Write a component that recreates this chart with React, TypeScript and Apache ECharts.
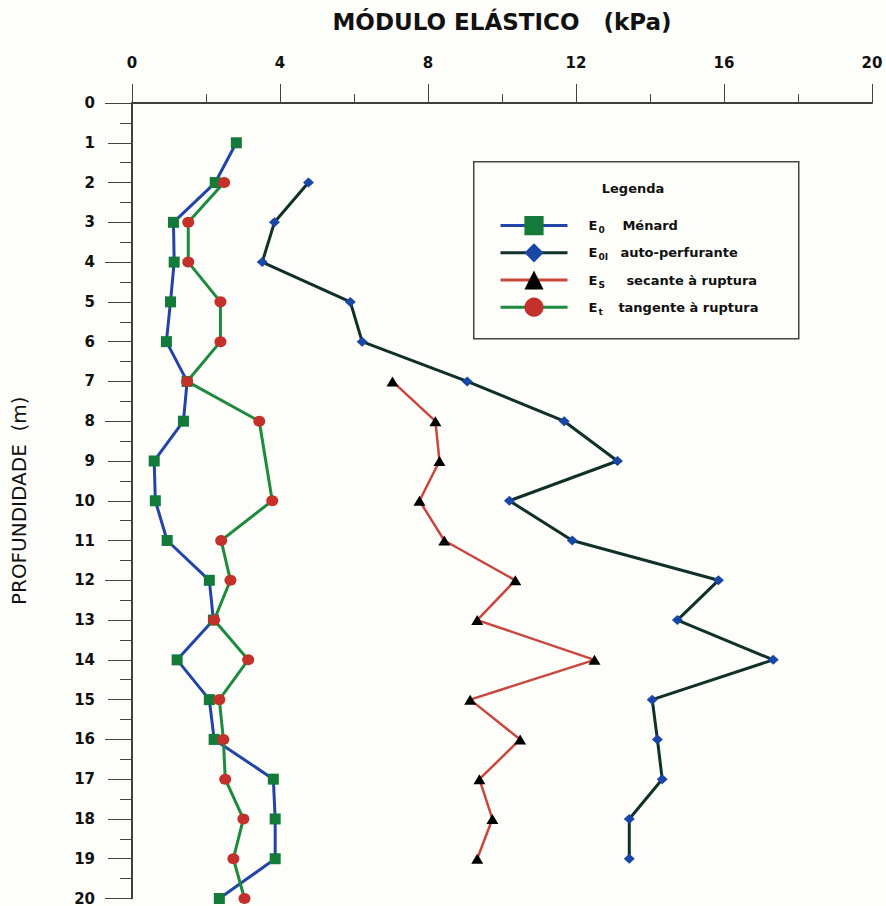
import React, { useEffect, useRef } from "react";
import * as echarts from "echarts";

// Depth (m) and elastic modulus values
const e0Depths = [1, 2, 3, 4, 5, 6, 7, 8, 9, 10, 11, 12, 13, 14, 15, 16, 17, 18, 19, 20];
const e0Values = [2.82, 2.25, 1.12, 1.14, 1.04, 0.93, 1.49, 1.39, 0.6, 0.63, 0.95, 2.09, 2.2, 1.22, 2.09, 2.22, 3.82, 3.87, 3.87, 2.36];

const e0iDepths = [2, 3, 4, 5, 6, 7, 8, 9, 10, 11, 12, 13, 14, 15, 16, 17, 18, 19];
const e0iValues = [4.77, 3.85, 3.52, 5.9, 6.22, 9.06, 11.68, 13.12, 10.2, 11.9, 15.85, 14.74, 17.33, 14.06, 14.2, 14.33, 13.44, 13.44];

const esDepths = [7, 8, 9, 10, 11, 12, 13, 14, 15, 16, 17, 18, 19];
const esValues = [7.04, 8.2, 8.31, 7.77, 8.44, 10.36, 9.33, 12.5, 9.14, 10.49, 9.39, 9.74, 9.33];

const etDepths = [2, 3, 4, 5, 6, 7, 8, 10, 11, 12, 13, 14, 15, 16, 17, 18, 19, 20];
const etValues = [2.49, 1.52, 1.52, 2.39, 2.39, 1.49, 3.44, 3.79, 2.41, 2.66, 2.22, 3.14, 2.36, 2.47, 2.52, 3.01, 2.74, 3.04];

const seriesNames = ["E0 Ménard", "E0I auto-perfurante", "ES secante à ruptura", "Et tangente à ruptura"];
const legendSubs = ["0", "0I", "S", "t"];
const legendDescs = ["Ménard", "auto-perfurante", "secante à ruptura", "tangente à ruptura"];

const xAxisTitle = "MÓDULO ELÁSTICO   (kPa)";
const yAxisTitle = "PROFUNDIDADE  (m)";
const legendTitle = "Legenda";

const FONT = "DejaVu Sans";

const toPairs = (vals: number[], depths: number[]) => vals.map((v, i) => [v, depths[i]]);

export default function App() {
  const ref = useRef<HTMLDivElement>(null);

  useEffect(() => {
    if (!ref.current) return;
    const chart = echarts.init(ref.current, undefined, { renderer: "svg" });

    const axisColor = "#333";
    const labelStyle = { fontFamily: FONT, fontWeight: "bold" as const, fontSize: 15, color: "#111" };

    const subWidths = [25, 23, 29, 21];
    const rich: any = {
      e: { fontFamily: FONT, fontWeight: "bold", fontSize: 13, color: "#111", padding: [0, 0, 0, 16] },
      d: { fontFamily: FONT, fontWeight: "bold", fontSize: 13, color: "#111" },
    };
    subWidths.forEach((w, i) => {
      rich["s" + i] = { fontFamily: FONT, fontWeight: "bold", fontSize: 9, color: "#111", padding: [9, 0, 0, 1], width: w - 1, align: "left" };
    });

    const mk = (name: string, data: number[][], lineColor: string, markColor: string, symbol: string, size: any, lw: number) => ({
      name,
      type: "line",
      xAxisIndex: 0,
      yAxisIndex: 0,
      data,
      symbol,
      symbolSize: size,
      showSymbol: true,
      lineStyle: { color: lineColor, width: lw },
      itemStyle: { color: markColor, borderWidth: 0 },
      emphasis: { disabled: true },
    });

    chart.setOption({
      animation: false,
      backgroundColor: "#fdfdfa",
      grid: { left: 132, right: 14, top: 103, bottom: 7, containLabel: false },
      xAxis: [
        {
          type: "value",
          position: "top",
          min: 0,
          max: 20,
          interval: 4,
          name: xAxisTitle,
          nameLocation: "middle",
          nameGap: 70,
          nameTextStyle: { fontFamily: FONT, fontWeight: "bold", fontSize: 23, color: "#111" },
          axisLine: { show: true, lineStyle: { color: axisColor, width: 1.5 } },
          axisTick: { show: true, length: 18, lineStyle: { color: "#444", width: 1 } },
          minorTick: { show: true, splitNumber: 2, length: 9, lineStyle: { color: "#444", width: 1 } },
          axisLabel: { ...labelStyle, margin: 33 },
          splitLine: { show: false },
        },
        {
          type: "value",
          position: "bottom",
          min: 0,
          max: 20,
          interval: 4,
          axisLine: { show: true, lineStyle: { color: axisColor, width: 1.5 } },
          axisTick: { show: true, inside: true, length: 19, lineStyle: { color: "#444", width: 1 } },
          minorTick: { show: true, splitNumber: 2, length: 9, lineStyle: { color: "#444", width: 1 } },
          axisLabel: { show: false },
          splitLine: { show: false },
        },
      ],
      yAxis: [
        {
          type: "value",
          inverse: true,
          min: 0,
          max: 20,
          interval: 1,
          name: yAxisTitle,
          nameLocation: "middle",
          nameGap: 103,
          nameRotate: 90,
          nameTextStyle: { fontFamily: FONT, fontSize: 20, color: "#111" },
          axisLine: { show: true, lineStyle: { color: axisColor, width: 1.5 } },
          axisTick: { show: true, length: 24, lineStyle: { color: "#444", width: 1 } },
          minorTick: { show: true, splitNumber: 2, length: 12, lineStyle: { color: "#444", width: 1 } },
          axisLabel: { ...labelStyle, margin: 37 },
          splitLine: { show: false },
        },
        {
          type: "value",
          position: "right",
          inverse: true,
          min: 0,
          max: 20,
          interval: 4,
          axisLine: { show: true, lineStyle: { color: axisColor, width: 1.5 } },
          axisTick: { show: true, inside: true, length: 27, lineStyle: { color: "#444", width: 1 } },
          minorTick: { show: true, splitNumber: 2, length: 12, lineStyle: { color: "#444", width: 1 } },
          axisLabel: { show: false },
          splitLine: { show: false },
        },
      ],
      legend: {
        orient: "vertical",
        left: 499,
        top: 216,
        padding: 0,
        itemWidth: 67,
        itemHeight: 24,
        itemGap: 8,
        selectedMode: false,
        data: seriesNames,
        lineStyle: { width: 3 },
        formatter: (name: string) => {
          const i = seriesNames.indexOf(name);
          return `{e|E}{s${i}|${legendSubs[i]}}{d|${legendDescs[i]}}`;
        },
        textStyle: { rich },
      },
      graphic: [
        {
          type: "rect",
          left: 473,
          top: 161,
          shape: { width: 325, height: 177 },
          style: { fill: "rgba(0,0,0,0)", stroke: "#444", lineWidth: 1.5 },
          silent: true,
        },
        {
          type: "text",
          x: 633,
          y: 188,
          style: { text: legendTitle, fontFamily: FONT, fontWeight: "bold", fontSize: 13, fill: "#111", align: "center", verticalAlign: "middle" },
          silent: true,
        },
      ],
      series: [
        mk(seriesNames[1], toPairs(e0iValues, e0iDepths), "#10302a", "#1a46a8", "diamond", [11, 10], 3),
        mk(seriesNames[2], toPairs(esValues, esDepths), "#c8483f", "#000000", "triangle", [12, 10], 2.5),
        mk(seriesNames[0], toPairs(e0Values, e0Depths), "#2244a8", "#137a3a", "rect", 11, 3),
        mk(seriesNames[3], toPairs(etValues, etDepths), "#1e8a3e", "#c4302a", "circle", [12, 11], 3),
      ],
    });

    return () => chart.dispose();
  }, []);

  return <div ref={ref} style={{ position: "fixed", left: 0, top: 0, width: 886, height: 906 }} />;
}
